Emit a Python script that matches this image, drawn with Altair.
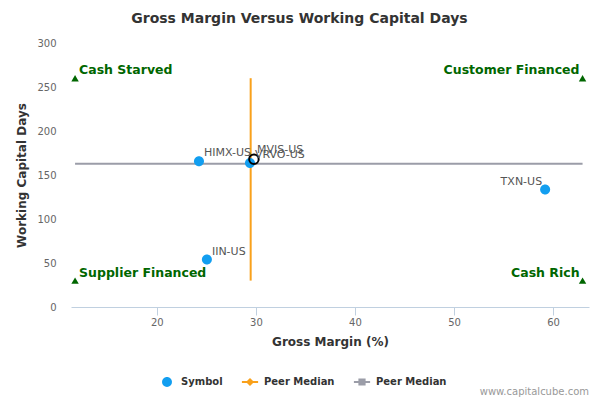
import altair as alt
import pandas as pd

# ---- data ----
symbols = ["HIMX-US", "VRVO-US", "TXN-US", "IIN-US"]
gross_margin = [24.25, 29.4, 59.2, 25.05]
wc_days = [165.5, 163.6, 133.4, 53.9]

focus_symbol = ["MVIS-US"]
focus_gm = [29.8]
focus_wcd = [168.0]

peer_median_gm = [29.47]
peer_median_wcd = [162.9]

quadrant_labels = ["Cash Starved", "Customer Financed", "Supplier Financed", "Cash Rich"]
quadrant_gm = [11.74, 62.98, 11.74, 62.98]
quadrant_wcd = [260, 260, 30, 30]
quadrant_side = ["left", "right", "left", "right"]

legend_names = ["Symbol", "Peer Median", "Peer Median "]

x_ticks = [20, 30, 40, 50, 60]
y_ticks = [0, 50, 100, 150, 200, 250, 300]
x_domain = [11.33, 63.63]
y_domain = [0, 300]

# ---- styles ----
FONT = "DejaVu Sans"
BLUE = "#129EF0"
ORANGE = "#F9A11B"
GRAY = "#9B9DA8"
GREEN = "#006600"

circle_path = "M-0.55,0A0.55,0.55,0,1,0,0.55,0A0.55,0.55,0,1,0,-0.55,0Z"
orange_path = "M-0.9,-0.1H0.9V0.1H-0.9Z M0,-0.45L0.45,0L0,0.45L-0.45,0Z"
gray_path = "M-0.9,-0.12H0.9V0.12H-0.9Z M-0.4,-0.4H0.4V0.4H-0.4Z"

pts = pd.DataFrame({"symbol": symbols, "gm": gross_margin, "wcd": wc_days,
                    "series": ["Symbol"] * len(symbols)})
focus = pd.DataFrame({"symbol": focus_symbol, "gm": focus_gm, "wcd": focus_wcd})
quad = pd.DataFrame({"label": quadrant_labels, "gm": quadrant_gm,
                     "wcd": quadrant_wcd, "side": quadrant_side})
hline = pd.DataFrame({"x": [min(quadrant_gm)], "x2": [max(quadrant_gm)], "y": peer_median_wcd})
vline = pd.DataFrame({"x": peer_median_gm, "y": [min(quadrant_wcd)], "y2": [max(quadrant_wcd)]})

xs = alt.Scale(domain=x_domain, nice=False, zero=False)
ys = alt.Scale(domain=y_domain, nice=False)

x_axis = alt.Axis(values=x_ticks, grid=False, domainColor="#C0D0E0", tickColor="#C0D0E0",
                  tickSize=8, labelPadding=2, labelColor="#666666", labelFont=FONT,
                  labelFontSize=10, title="Gross Margin (%)", titleFont=FONT,
                  titleFontSize=12, titleFontWeight="bold", titleColor="#333333",
                  titlePadding=9)
y_axis = alt.Axis(values=y_ticks, grid=False, domain=False, ticks=False, labelPadding=15,
                  labelColor="#666666", labelFont=FONT, labelFontSize=10,
                  title="Working Capital Days", titleFont=FONT, titleFontSize=12,
                  titleFontWeight="bold", titleColor="#333333", titlePadding=8)

legend_cfg = dict(title=None, orient="none", direction="horizontal",
                  legendX=87, legendY=330, symbolSize=324, symbolStrokeWidth=0,
                  labelFont=FONT, labelFontSize=10, labelFontWeight="bold",
                  labelColor="#333333", labelOffset=5, columnPadding=18, padding=0)

h_rule = alt.Chart(hline).mark_rule(color=GRAY, strokeWidth=2).encode(
    x=alt.X("x:Q", scale=xs, axis=x_axis), x2="x2:Q",
    y=alt.Y("y:Q", scale=ys, axis=y_axis))
v_rule = alt.Chart(vline).mark_rule(color=ORANGE, strokeWidth=2).encode(
    x=alt.X("x:Q", scale=xs), y=alt.Y("y:Q", scale=ys), y2="y2:Q")

tri = alt.Chart(quad).mark_point(shape="triangle-up", filled=True, color=GREEN,
                                 size=55, opacity=1).encode(
    x=alt.X("gm:Q", scale=xs), y=alt.Y("wcd:Q", scale=ys))
qtext_l = alt.Chart(quad).transform_filter("datum.side == 'left'").mark_text(
    align="left", baseline="alphabetic", dx=4, dy=-4, font=FONT, fontSize=12.5,
    fontWeight="bold", color=GREEN).encode(
    x=alt.X("gm:Q", scale=xs), y=alt.Y("wcd:Q", scale=ys), text="label:N")
qtext_r = alt.Chart(quad).transform_filter("datum.side == 'right'").mark_text(
    align="right", baseline="alphabetic", dx=-3, dy=-4, font=FONT, fontSize=12.5,
    fontWeight="bold", color=GREEN).encode(
    x=alt.X("gm:Q", scale=xs), y=alt.Y("wcd:Q", scale=ys), text="label:N")

points = alt.Chart(pts).mark_point(filled=True, size=330, opacity=1).encode(
    x=alt.X("gm:Q", scale=xs), y=alt.Y("wcd:Q", scale=ys),
    color=alt.Color("series:N",
                    scale=alt.Scale(domain=legend_names, range=[BLUE, ORANGE, GRAY]),
                    legend=alt.Legend(**legend_cfg)),
    shape=alt.Shape("series:N",
                    scale=alt.Scale(domain=legend_names,
                                    range=[circle_path, orange_path, gray_path]),
                    legend=alt.Legend(**legend_cfg)))

focus_pt = alt.Chart(focus).mark_point(shape="circle", filled=False, color="black",
                                       strokeWidth=2, size=90, opacity=1).encode(
    x=alt.X("gm:Q", scale=xs), y=alt.Y("wcd:Q", scale=ys))

lab_l = alt.Chart(pts).transform_filter("datum.symbol != 'TXN-US'").mark_text(
    align="left", baseline="alphabetic", dx=5, dy=-5, font=FONT, fontSize=11,
    color="#555555").encode(
    x=alt.X("gm:Q", scale=xs), y=alt.Y("wcd:Q", scale=ys), text="symbol:N")
lab_r = alt.Chart(pts).transform_filter("datum.symbol == 'TXN-US'").mark_text(
    align="right", baseline="alphabetic", dx=-3, dy=-5, font=FONT, fontSize=11,
    color="#555555").encode(
    x=alt.X("gm:Q", scale=xs), y=alt.Y("wcd:Q", scale=ys), text="symbol:N")
lab_f = alt.Chart(focus).mark_text(
    align="left", baseline="alphabetic", dx=3, dy=-6, font=FONT, fontSize=11,
    color="#555555").encode(
    x=alt.X("gm:Q", scale=xs), y=alt.Y("wcd:Q", scale=ys), text="symbol:N")

watermark = alt.Chart(pd.DataFrame({"t": ["www.capitalcube.com"]})).mark_text(
    align="right", baseline="middle", font=FONT, fontSize=10, color="#999999").encode(
    x=alt.value(518), y=alt.value(349), text="t:N")

chart = alt.layer(h_rule, v_rule, tri, qtext_l, qtext_r, points, focus_pt,
                  lab_l, lab_r, lab_f, watermark).properties(
    width=518, height=264, background="white",
    title=alt.TitleParams("Gross Margin Versus Working Capital Days", font=FONT,
                          fontSize=14, fontWeight="bold", color="#333333",
                          anchor="middle", frame="bounds", offset=12, dx=-3),
    autosize=alt.AutoSizeParams(type="none"),
    padding={"left": 63, "top": 35, "right": 3, "bottom": 90},
).configure_view(strokeWidth=0)

chart.save("out.html", embed_options={"renderer": "svg", "actions": False})
